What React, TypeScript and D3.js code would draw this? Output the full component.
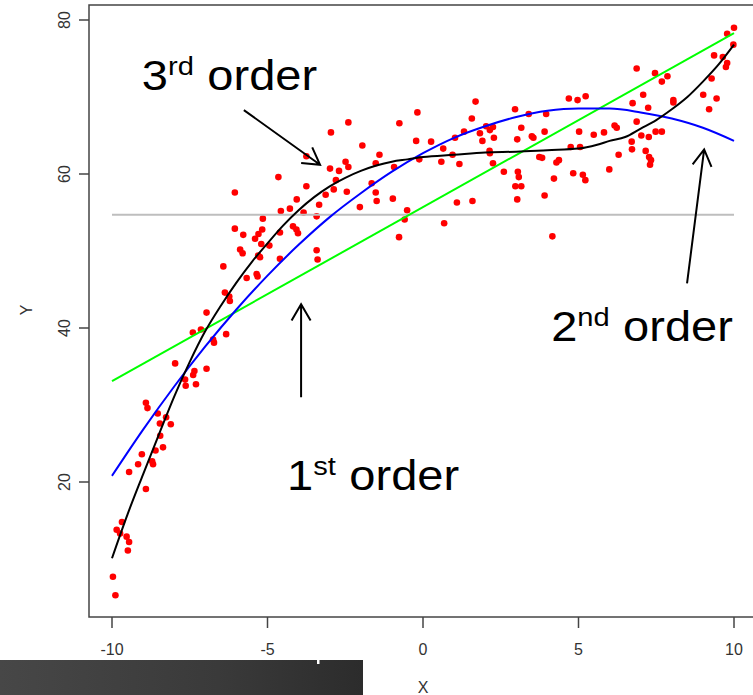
import React from "react";
import * as d3 from "d3";

const W = 753;
const H = 695;

// Axis ticks
const xTicks = [-10, -5, 0, 5, 10];
const yTicks = [20, 40, 60, 80];

// Observations
const pointX = [
  -9.97, -9.89, -9.68, -9.85, -9.74, -9.53, -9.45, -9.49, -8.91, -9.45,
  -9.16, -9.04, -8.71, -8.68, -8.6, -8.36, -8.45, -8.46, -8.11, -8.26,
  -8.53, -8.86, -8.91, -7.97, -7.65, -7.63, -7.3, -7.35, -7.39, -6.96,
  -6.72, -6.75, -7.14, -7.4, -6.33, -6.96, -6.21, -6.23, -6.37, -6.42,
  -5.67, -5.35, -5.32, -5.3, -5.24, -4.6, -3.42, -3.39, -5.88, -5.8,
  -5.2, -4.94, -5.17, -5.29, -5.4, -4.6, -4.18, -4.07, -4.02, -6.05,
  -5.78, -5.15, -3.42, -3.84, -4.57, -4.28, -3.34, -4.06, -6.05, -4.65,
  -3.75, -3.13, -2.87, -2.8, -2.45, -2.03, -1.52, -1.49, -3.75, -2.99,
  -2.7, -2.49, -2.4, -1.52, -1.4, -1.95, -2.96, -2.4, -0.76, -0.18,
  -0.22, 0.26, 0.65, 0.59, -0.12, -0.93, -1.65, -0.97, -0.51, -0.59,
  0.68, -0.77, 1.69, 1.57, 1.32, 1.03, 0.95, 1.17, 1.83, 1.91,
  2.03, 2.15, 2.25, 2.28, 2.14, 2.15, 2.25, 1.09, 1.59, 2.96,
  3.4, 3.96, 3.16, 3.03, 3.5, 3.55, 3.91, 3.74, 3.83, 4.37,
  4.29, 2.6, 3.05, 3.08, 2.97, 3.16, 3.03, 4.21, 3.91, 4.16,
  4.69, 4.97, 5.23, 5.02, 5.49, 4.75, 5.05, 4.83, 5.14, 5.22,
  5.82, 6.16, 6.23, 5.99, 6.29, 6.71, 6.72, 7.16, 7.27, 7.33,
  7.3, 7.02, 7.26, 7.48, 7.68, 6.87, 6.74, 7.08, 7.24, 8.05,
  8.05, 7.68, 6.87, 7.46, 7.86, 9.28, 9.01, 9.44, 9.2, 9.36,
  9.64, 9.78, 9.74, 10.0, 9.78, 9.98,
];
const pointY = [
  7.7, 5.3, 14.8, 13.8, 13.3, 12.9, 12.2, 11.1, 19.1, 21.3,
  22.3, 23.6, 22.7, 22.3, 24.1, 24.5, 26.0, 27.6, 27.5, 28.4,
  28.9, 29.6, 30.3, 35.4, 33.3, 32.5, 32.7, 34.4, 33.9, 34.7,
  38.1, 38.5, 39.8, 39.4, 39.2, 42.0, 43.5, 44.1, 44.6, 48.0,
  46.5, 47.0, 46.7, 49.4, 49.2, 49.0, 50.1, 48.9, 50.2, 49.7,
  50.9, 50.7, 52.8, 52.2, 51.6, 52.4, 53.2, 52.8, 52.3, 52.9,
  52.1, 54.2, 54.5, 55.0, 55.2, 55.5, 56.0, 56.7, 57.6, 59.6,
  58.4, 57.3, 58.0, 59.2, 57.7, 55.7, 57.6, 56.5, 62.3, 60.7,
  60.4, 61.6, 60.9, 61.4, 62.5, 63.7, 65.4, 66.7, 66.6, 68.0,
  64.3, 64.2, 63.3, 61.6, 61.9, 60.9, 58.8, 56.8, 55.3, 54.1,
  53.6, 51.8, 69.4, 67.2, 65.5, 64.7, 62.5, 61.3, 65.3, 64.3,
  66.2, 65.7, 66.1, 64.7, 63.0, 62.7, 61.4, 56.3, 56.5, 68.4,
  67.8, 67.8, 66.0, 64.5, 64.9, 64.7, 65.5, 62.2, 62.1, 61.8,
  61.5, 60.3, 60.3, 59.6, 58.4, 58.4, 56.7, 59.4, 57.2, 51.9,
  69.8, 69.6, 70.1, 65.5, 65.1, 63.5, 63.5, 60.1, 59.9, 59.2,
  65.4, 66.3, 66.0, 60.6, 62.5, 64.2, 63.2, 63.0, 62.2, 61.8,
  61.2, 65.0, 64.8, 65.5, 65.5, 66.8, 69.2, 70.3, 68.6, 69.6,
  69.3, 72.0, 73.7, 73.1, 72.7, 72.4, 70.3, 69.8, 68.4, 75.4,
  75.2, 74.4, 73.9, 79.0, 78.2, 76.8,
];

// Mean of Y (horizontal reference)
const meanY = 54.7;

// 1st order fit
const linearX = [-10, 10];
const linearY = [33.1, 78.3];

// 2nd order fit
const quadX = [-10, -9, -8, -7, -6, -5, -4, -3, -2, -1, 0, 1, 2, 3, 4, 5, 6, 7, 8, 9, 10];
const quadY = [20.8, 26.8, 32.4, 37.6, 42.4, 46.8, 50.8, 54.4, 57.5, 60.3, 62.7, 64.7, 66.2, 67.4, 68.2, 68.5, 68.5, 68.0, 67.2, 66.0, 64.3];

// 3rd order fit
const cubicX = [-10, -9.5, -9, -8.5, -8, -7.5, -7, -6.5, -6, -5.5, -5, -4.5, -4, -3.5, -3, -2.5, -2, -1.5, -1, -0.5, 0, 1, 2, 3, 4, 5, 5.6, 6, 6.5, 7, 7.5, 8, 8.5, 9, 9.5, 10];
const cubicY = [10.1, 15.8, 21.0, 26.1, 31.1, 35.6, 39.6, 42.9, 45.9, 48.6, 51.0, 53.3, 55.3, 57.0, 58.4, 59.5, 60.4, 61.1, 61.6, 61.9, 62.2, 62.5, 62.8, 62.9, 63.1, 63.3, 63.8, 64.3, 64.8, 65.9, 67.0, 68.4, 70.0, 72.0, 74.2, 76.8];

// Annotation labels (data coordinates of the baseline start)
const labelBase = ["3", "2", "1"];
const labelSup = ["rd", "nd", "st"];
const labelX = [-9.04, 4.12, -4.37];
const labelY = [70.9, 38.3, 19.0];

// Annotation arrows: tail -> head, data coordinates
const arrowFromX = [-5.76, 8.49, -3.92];
const arrowFromY = [68.3, 45.8, 31.0];
const arrowToX = [-3.31, 9.04, -3.92];
const arrowToY = [61.2, 63.2, 43.1];

const frame = { left: 89, top: 5, right: 757, bottom: 617 };
const FONT = "'Liberation Sans', Arial, Helvetica, sans-serif";
const AXIS_COLOR = "#444";
const TEXT_COLOR = "#333";

export default function App() {
  const x = d3.scaleLinear().domain([-10, 10]).range([112, 734]);
  const y = d3.scaleLinear().domain([20, 80]).range([482, 20]);

  const line = d3
    .line<[number, number]>()
    .x((d) => x(d[0]))
    .y((d) => y(d[1]))
    .curve(d3.curveMonotoneX);

  const zip = (a: number[], b: number[]) => a.map((v, i) => [v, b[i]] as [number, number]);

  const arrows = arrowFromX.map((_, i) => {
    const x1 = x(arrowFromX[i]);
    const y1 = y(arrowFromY[i]);
    const x2 = x(arrowToX[i]);
    const y2 = y(arrowToY[i]);
    const a = Math.atan2(y2 - y1, x2 - x1);
    const L = 19;
    const th = (30 * Math.PI) / 180;
    const w1 = [x2 - L * Math.cos(a - th), y2 - L * Math.sin(a - th)];
    const w2 = [x2 - L * Math.cos(a + th), y2 - L * Math.sin(a + th)];
    return `M${x1},${y1}L${x2},${y2}M${w1[0]},${w1[1]}L${x2},${y2}L${w2[0]},${w2[1]}`;
  });

  return (
    <svg
      width={W}
      height={H}
      viewBox={`0 0 ${W} ${H}`}
      style={{ position: "absolute", left: 0, top: 0, background: "#fff" }}
      fontFamily={FONT}
    >
      <defs>
        <linearGradient id="barGrad" x1="0" x2="1" y1="0" y2="0">
          <stop offset="0" stopColor="#474747" />
          <stop offset="0.6" stopColor="#3a3a3a" />
          <stop offset="1" stopColor="#2c2c2c" />
        </linearGradient>
      </defs>
      <rect x={0} y={0} width={W} height={H} fill="#fff" />

      {/* plot box */}
      <rect
        x={frame.left}
        y={frame.top}
        width={frame.right - frame.left}
        height={frame.bottom - frame.top}
        fill="none"
        stroke={AXIS_COLOR}
        strokeWidth={1.5}
      />

      {/* x axis */}
      {xTicks.map((t) => (
        <g key={`xt${t}`}>
          <line x1={x(t)} x2={x(t)} y1={frame.bottom} y2={frame.bottom + 11} stroke={AXIS_COLOR} strokeWidth={1.5} />
          <text x={x(t)} y={655} textAnchor="middle" fontSize={16} fill={TEXT_COLOR}>
            {t}
          </text>
        </g>
      ))}
      <text x={x(0)} y={693} textAnchor="middle" fontSize={16} fill={TEXT_COLOR}>
        X
      </text>

      {/* y axis */}
      {yTicks.map((t) => (
        <g key={`yt${t}`}>
          <line x1={frame.left - 10} x2={frame.left} y1={y(t)} y2={y(t)} stroke={AXIS_COLOR} strokeWidth={1.5} />
          <text
            transform={`translate(70,${y(t)}) rotate(-90)`}
            textAnchor="middle"
            fontSize={16}
            fill={TEXT_COLOR}
          >
            {t}
          </text>
        </g>
      ))}
      <text transform="translate(32,310) rotate(-90)" textAnchor="middle" fontSize={16} fill={TEXT_COLOR}>
        Y
      </text>

      {/* observations */}
      {pointX.map((px, i) => (
        <circle key={`p${i}`} cx={x(px)} cy={y(pointY[i])} r={3.3} fill="#ff0000" />
      ))}

      {/* mean line */}
      <line x1={x(-10)} x2={x(10)} y1={y(meanY)} y2={y(meanY)} stroke="#bebebe" strokeWidth={2} />

      {/* fitted curves */}
      <path d={line(zip(linearX, linearY)) || ""} fill="none" stroke="#00ff00" strokeWidth={2} />
      <path d={line(zip(quadX, quadY)) || ""} fill="none" stroke="#0000ff" strokeWidth={2} />
      <path d={line(zip(cubicX, cubicY)) || ""} fill="none" stroke="#000" strokeWidth={2} />

      {/* annotations */}
      {arrows.map((d, i) => (
        <path key={`a${i}`} d={d} fill="none" stroke="#000" strokeWidth={2} />
      ))}
      {labelBase.map((b, i) => (
        <g key={`l${i}`} transform={`translate(${x(labelX[i])},${y(labelY[i])}) scale(1.12,1)`}>
          <text x={0} y={0} fontSize={42} fill="#000">
            {b}
            <tspan fontSize={26} dy={-15}>
              {labelSup[i]}
            </tspan>
            <tspan dx={12} dy={15}>
              order
            </tspan>
          </text>
        </g>
      ))}

      {/* footer band */}
      <rect x={0} y={660} width={363} height={35} fill="url(#barGrad)" />
      <rect x={317} y={659} width={2.5} height={5} fill="#fff" />
    </svg>
  );
}
